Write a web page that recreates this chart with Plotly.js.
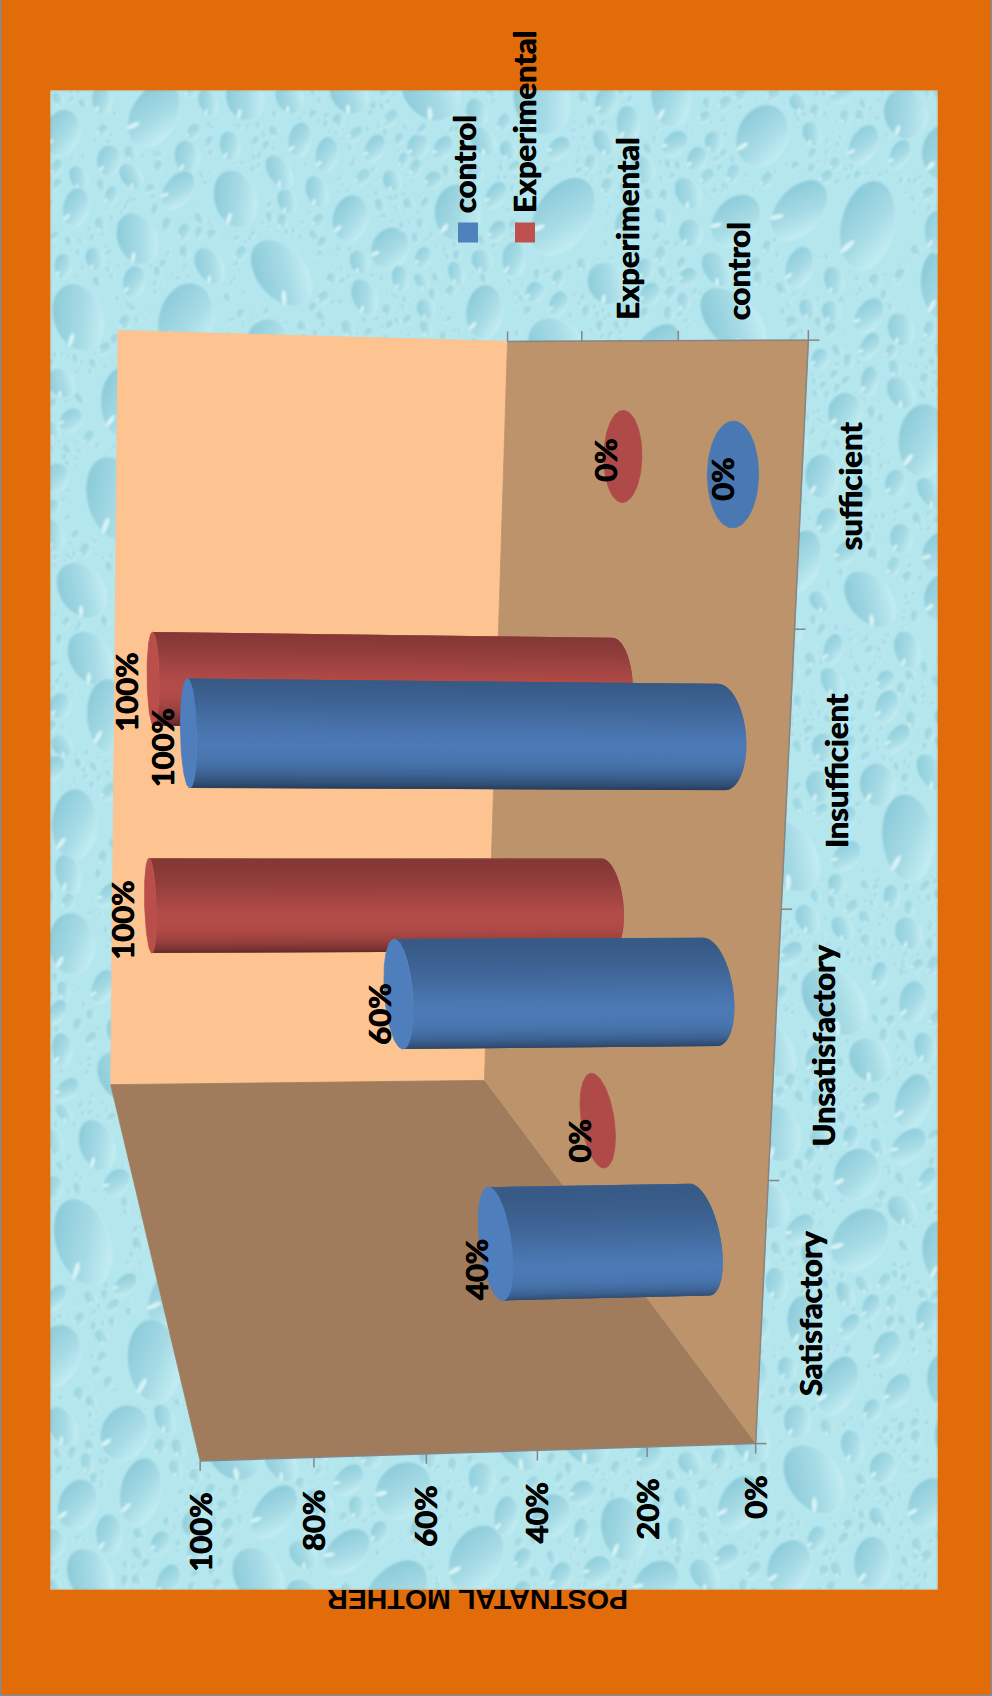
<!DOCTYPE html>
<html>
<head>
<meta charset="utf-8">
<script src="https://cdn.plot.ly/plotly-3.0.1.min.js"></script>
<style>html,body{margin:0;padding:0;background:#E36C0A}#chart{width:992px;height:1696px}</style>
</head>
<body>
<div id="chart"></div>
<script>
// Chart values
const categories = ['Satisfactory', 'Unsatisfactory', 'Insufficient', 'sufficient'];
const seriesNames = ['control', 'Experimental'];
const controlValues = [40, 60, 100, 0];
const experimentalValues = [0, 100, 100, 0];
const valueTicks = [0, 20, 40, 60, 80, 100];
const chartTitle = 'POSTNATAL MOTHER';

// Colours
const ORANGE = '#E36C0A', AXIS = '#868686';
const seriesBody = [[76, 122, 182], [180, 76, 73]];
const seriesKey = ['#4F81BD', '#C0504D'];
const FONT = 'Lato, sans-serif';

// Perspective calibration: box position (category, depth, value 0..1) -> page position
const anchors = [
  [0,0,0,755,1443,4],[4,0,0,808.5,340,4],[4,3,0,507.6,341,4],[0,3,0,484,1081,4],
  [0,3,1,111,1084,4],[4,3,1,118,331,4],[0,0,1,200,1462,4],
  [1,0,0,767,1180,1],[2,0,0,778.6,910,1],[3,0,0,790,630,1],
  [4,1,0,678,341,1],[4,2,0,581,341,1],
  [2.5,.5,1,189,732,1],[2.5,.5,0,723,737,1],[3.5,.5,0,733,474,1],[3.5,1.5,0,624,457,1],
  [.5,1.5,0,598,1120,1],[.5,.5,0,702.7,1239,1],[.5,.5,.4,495.6,1243,1],
  [1.5,1.5,1,150,905,1],[1.5,1.5,0,604,905,1],[2.5,1.5,1,152,678,1],
  [1.5,.5,.6,398,993,1],[1.5,.5,0,714,991,1]
];

function solveProjection(pts) {
  const n = 11, A = Array.from({length: n}, () => new Array(n + 1).fill(0));
  const add = (row, rhs, w) => {
    for (let i = 0; i < n; i++) {
      for (let j = 0; j < n; j++) A[i][j] += w * row[i] * row[j];
      A[i][n] += w * row[i] * rhs;
    }
  };
  pts.forEach(([c, d, v, px, py, w]) => {
    const u = (px - 500) / 500, t = (py - 850) / 850;
    add([c, d, v, 1, 0, 0, 0, 0, -u * c, -u * d, -u * v], u, w);
    add([0, 0, 0, 0, c, d, v, 1, -t * c, -t * d, -t * v], t, w);
  });
  for (let i = 0; i < n; i++) {
    let m = i;
    for (let r = i + 1; r < n; r++) if (Math.abs(A[r][i]) > Math.abs(A[m][i])) m = r;
    [A[i], A[m]] = [A[m], A[i]];
    for (let r = 0; r < n; r++) {
      if (r === i) continue;
      const f = A[r][i] / A[i][i];
      for (let k = i; k <= n; k++) A[r][k] -= f * A[i][k];
    }
  }
  return A.map((row, i) => row[n] / row[i]);
}
const P = solveProjection(anchors);
function project(c, d, v) {
  const w = P[8] * c + P[9] * d + P[10] * v + 1;
  return [
    500 + 500 * (P[0] * c + P[1] * d + P[2] * v + P[3]) / w,
    850 + 850 * (P[4] * c + P[5] * d + P[6] * v + P[7]) / w
  ];
}

// Water-drop backdrop painted to a canvas and placed as a layout image.
// Drops are packed largest first; smaller ones only go in the remaining gaps.
function waterTexture(w, h) {
  const cv = document.createElement('canvas');
  cv.width = w; cv.height = h;
  const g = cv.getContext('2d');
  g.fillStyle = '#b4e6ed';
  g.fillRect(0, 0, w, h);
  let seed = 20231;
  const rnd = () => { seed = (seed * 1664525 + 1013904223) % 4294967296; return seed / 4294967296; };
  const placed = [];
  const free = (x, y, r) => placed.every(q => {
    const dx = q[0] - x, dy = q[1] - y, s = q[2] + r;
    return dx * dx + dy * dy > s * s;
  });
  const drop = (x, y, rx, ry, rot, dark) => {
    g.save();
    g.translate(x, y); g.rotate(rot);
    const gr = g.createLinearGradient(-rx, -ry * .3, rx * .9, ry * .3);
    gr.addColorStop(0, dark);
    gr.addColorStop(.6, '#a6dbe5');
    gr.addColorStop(1, '#c0ebf1');
    g.fillStyle = gr;
    g.beginPath(); g.ellipse(0, 0, rx, ry, 0, 0, 2 * Math.PI); g.fill();
    g.strokeStyle = 'rgba(205,242,246,.6)';
    g.lineWidth = 1;
    g.stroke();
    if (rx > 5) {
      g.fillStyle = 'rgba(228,250,250,.8)';
      g.beginPath(); g.ellipse(-rx * .55, ry * .55, rx * .07 + .8, ry * .2, .6, 0, 2 * Math.PI); g.fill();
    }
    g.restore();
  };
  const pass = (cell, rMin, rMax, dark, keep) => {
    for (let y = 0; y < h + cell; y += cell) for (let x = 0; x < w + cell; x += cell) {
      const rx = rMin + rnd() * (rMax - rMin);
      const ry = rx * (1.15 + rnd() * .55);
      const px = x + rnd() * cell, py = y + rnd() * cell;
      if (!free(px, py, rx * 1.1)) continue;
      drop(px, py, rx, ry, -0.8 + rnd() * 1.6, dark);
      if (keep) placed.push([px, py, ry]);
    }
  };
  pass(78, 17, 28, '#8ccbda', true);
  pass(30, 8, 14, '#8fcedc', true);
  pass(15, 3.5, 6.5, '#98d4e0', true);
  pass(9, 1.5, 3, '#a0d9e4', false);
  // Soften the painted drops in one pass
  const out = document.createElement('canvas');
  out.width = w; out.height = h;
  const og = out.getContext('2d');
  og.filter = 'blur(0.9px)';
  og.drawImage(cv, 0, 0);
  return out.toDataURL('image/png');
}

// Build traces
const traces = [];
function poly(pts, color, edge) {
  traces.push({
    type: 'scatter', mode: 'lines', fill: 'toself', fillcolor: color,
    x: pts.map(p => p[0]), y: pts.map(p => p[1]),
    line: {color: color, width: edge === undefined ? 0.8 : edge}, hoverinfo: 'skip', showlegend: false
  });
}
function stroke(pts, color, width) {
  traces.push({
    type: 'scatter', mode: 'lines', x: pts.map(p => p[0]), y: pts.map(p => p[1]),
    line: {color: color, width: width}, hoverinfo: 'skip', showlegend: false
  });
}

const nCat = categories.length, nDepth = 3;
// Walls and floor
poly([project(0,nDepth,0), project(nCat,nDepth,0), project(nCat,nDepth,1), project(0,nDepth,1)], '#FDC391');
poly([project(0,0,0), project(0,nDepth,0), project(0,nDepth,1), project(0,0,1)], '#A17C5C');
poly([project(0,0,0), project(nCat,0,0), project(nCat,nDepth,0), project(0,nDepth,0)], '#BC936B');

// Axis lines and ticks
stroke([project(0,0,1), project(0,0,0), project(nCat,0,0), project(nCat,nDepth,0)], AXIS, 1.5);
for (let c = 0; c <= nCat; c++) { const p = project(c,0,0); stroke([p, [p[0] + 11, p[1]]], AXIS, 1.5); }
for (let d = 0; d <= nDepth; d++) { const p = project(nCat,d,0); stroke([p, [p[0], p[1] - 10]], AXIS, 1.5); }
valueTicks.forEach(t => { const p = project(0,0,t / 100); stroke([p, [p[0], p[1] + 10]], AXIS, 1.5); });

// Cylinders: a ring of shaded slices plus the end cap
const R = 0.2, SLICES = 96;
const shadeStops = [[-1,.74],[-.6,.86],[-.2,.98],[0,1],[.25,.96],[.5,.84],[.8,.62],[1,.42]];
function shade(t) {
  for (let i = 1; i < shadeStops.length; i++) {
    if (t <= shadeStops[i][0]) {
      const [a, fa] = shadeStops[i - 1], [b, fb] = shadeStops[i];
      return fa + (fb - fa) * (t - a) / (b - a);
    }
  }
  return shadeStops[shadeStops.length - 1][1];
}
const rgb = (c, f) => `rgb(${Math.round(c[0] * f)},${Math.round(c[1] * f)},${Math.round(c[2] * f)})`;
const area = pts => pts.reduce((s, p, i) => {
  const q = pts[(i + 1) % pts.length];
  return s + p[0] * q[1] - q[0] * p[1];
}, 0);
function cylinder(cat, series, value) {
  const cc = cat + .5, dd = series + .5, v = value / 100;
  const rim = (th, h) => project(cc + R * Math.cos(th), dd + R * Math.sin(th), h);
  if (value > 0) {
    const step = 2 * Math.PI / SLICES;
    const faceOf = (a, b) => [rim(a, 0), rim(b, 0), rim(b, v), rim(a, v)];
    const ref = Math.sign(area(faceOf(-Math.PI / 2 - .01, -Math.PI / 2 + .01)));
    // Walk the visible half from one edge to the other, each slice overlapping the
    // next one so no seams show between them
    const visible = [];
    for (let i = 0; i < SLICES; i++) {
      const a = -Math.PI + step * i, b = a + step;
      if (Math.sign(area(faceOf(a, b))) === ref) visible.push([a, b]);
    }
    visible.forEach(([a, b], k) => {
      const last = k === visible.length - 1;
      poly(faceOf(a, last ? b : b + step), rgb(seriesBody[series], shade(-Math.cos((a + b) / 2))), 0);
    });
  }
  const cap = [];
  for (let i = 0; i <= SLICES; i++) cap.push(rim(2 * Math.PI * i / SLICES, v));
  poly(cap, rgb(seriesBody[series], value > 0 ? 1.03 : 0.98));
}
const seriesValues = [controlValues, experimentalValues];
[1, 0].forEach(s => seriesValues[s].forEach((val, c) => cylinder(c, s, val)));

// Legend keys
const keyX = [468, 525], keyY = 232.5;
seriesNames.forEach((n, i) => traces.push({
  type: 'scatter', mode: 'markers', x: [keyX[i]], y: [keyY],
  marker: {symbol: 'square', size: 20, color: seriesKey[i]}, hoverinfo: 'skip', showlegend: false
}));

// Text
const annotations = [];
const HEAVY = '0.5px 0 0 #000, -0.5px 0 0 #000';
function label(text, x, y, size, opts) {
  annotations.push(Object.assign({
    text: '<b>' + text + '</b>', x, y, xref: 'x', yref: 'y', showarrow: false, textangle: -90,
    xanchor: 'center', yanchor: 'middle', font: {family: FONT, size, color: '#000', shadow: HEAVY}
  }, opts || {}));
}
// Pixel nudges of the value labels beside each cylinder top
const labelNudge = [
  [[-19, 27], [-20, 21], [-26, 15], [-10, 5]],
  [[-18, 21], [-28, 15], [-27, 13], [-17, 4]]
];
seriesValues.forEach((vals, s) => vals.forEach((val, c) => {
  const p = project(c + .5, s + .5, val / 100), n = labelNudge[s][c];
  label(val + '%', p[0] + n[0], p[1] + n[1], 31);
}));
categories.forEach((name, c) => {
  const p = project(c + .5, 0, 0);
  label(name, p[0] + 48, p[1], 31);
});
seriesNames.forEach((name, s) => {
  const p = project(nCat, s + .5, 0);
  label(name, p[0], 322, 31, {yanchor: 'bottom'});
});
valueTicks.forEach(t => {
  const p = project(0, 0, t / 100);
  label(t + '%', p[0] - 1, p[1] + 30, 31, {yanchor: 'top'});
});
seriesNames.forEach((name, i) => {
  label(name, keyX[i] - (i ? 1 : 4), 215, 31, {yanchor: 'bottom'});
});
annotations.push({
  text: '<b>' + chartTitle + '</b>', x: 478, y: 1600, xref: 'x', yref: 'y', showarrow: false, textangle: 180,
  xanchor: 'center', yanchor: 'middle', font: {family: 'Liberation Sans, Arial, sans-serif', size: 28.5, color: '#000'}
});

const layout = {
  width: 992, height: 1696,
  margin: {l: 0, r: 0, t: 0, b: 0},
  paper_bgcolor: ORANGE, plot_bgcolor: 'rgba(0,0,0,0)',
  showlegend: false, hovermode: false,
  xaxis: {range: [0, 992], visible: false, fixedrange: true},
  yaxis: {range: [1696, 0], visible: false, fixedrange: true},
  images: [{
    source: waterTexture(888, 1500), xref: 'x', yref: 'y', x: 50, y: 90,
    sizex: 888, sizey: 1500, sizing: 'stretch', xanchor: 'left', yanchor: 'top', layer: 'below'
  }],
  shapes: [
    {type: 'line', xref: 'paper', yref: 'paper', x0: 0, x1: 0, y0: 0, y1: 1, line: {color: '#8a8a8a', width: 3}},
    {type: 'line', xref: 'paper', yref: 'paper', x0: 1, x1: 1, y0: 0, y1: 1, line: {color: '#8a8a8a', width: 3}},
    {type: 'line', xref: 'paper', yref: 'paper', x0: 0, x1: 1, y0: 0, y1: 0, line: {color: '#8a8a8a', width: 3}}
  ],
  annotations
};
Plotly.newPlot('chart', traces, layout, {displayModeBar: false, staticPlot: true});
</script>
</body>
</html>
